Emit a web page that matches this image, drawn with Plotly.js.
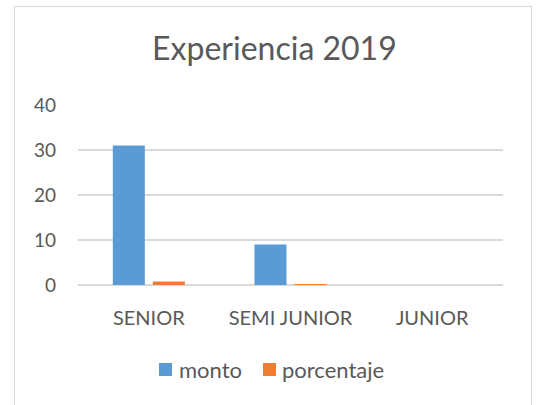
<!DOCTYPE html>
<html>
<head>
<meta charset="utf-8">
<script src="https://cdn.plot.ly/plotly-3.0.1.min.js"></script>
<style>
  html, body { margin: 0; padding: 0; background: #fff; }
  #wrap { position: relative; width: 536px; height: 405px; overflow: hidden; }
  #chart { width: 536px; height: 405px; }
  #frame { position: absolute; left: 14px; top: 6px; width: 518px; height: 420px;
           border: 1px solid #d9d9d9; pointer-events: none; box-sizing: border-box; }
</style>
</head>
<body>
<div id="wrap">
  <div id="chart"></div>
  <div id="frame"></div>
</div>
<script>
const categories = ["SENIOR", "SEMI JUNIOR", "JUNIOR"];
const seriesNames = ["monto", "porcentaje"];
const seriesColors = ["#5B9BD5", "#ED7D31"];
const montoValues = [31, 9, 0];
const porcentajeValues = [0.775, 0.225, 0];
const yTicks = [0, 10, 20, 30, 40];

const fontFam = "Lato, 'Open Sans', sans-serif";
const textColor = "#595959";

const traces = [
  { type: "bar", name: seriesNames[0], x: categories, y: montoValues,
    marker: { color: seriesColors[0] }, hoverinfo: "skip" },
  { type: "bar", name: seriesNames[1], x: categories, y: porcentajeValues,
    marker: { color: seriesColors[1] }, hoverinfo: "skip" }
];

// custom legend (small squares + text), positioned in paper coords
const legendSquares = [[0.1906, 0.2212], [0.4353, 0.4659]];
const legendTextX = [0.2330, 0.4753];
const shapes = legendSquares.map((s, i) => ({
  type: "rect", xref: "paper", yref: "paper", x0: s[0], x1: s[1], y0: -0.5056, y1: -0.4333,
  fillcolor: seriesColors[i], line: { width: 0 }
}));
const annotations = seriesNames.map((n, i) => ({
  text: n, xref: "paper", yref: "paper", x: legendTextX[i], y: -0.4667,
  xanchor: "left", yanchor: "middle", showarrow: false,
  font: { family: fontFam, size: 22, color: textColor }
}));

const layout = {
  width: 536, height: 405,
  margin: { l: 78, r: 33, t: 105, b: 120 },
  paper_bgcolor: "rgba(0,0,0,0)", plot_bgcolor: "#fff",
  font: { family: fontFam, color: textColor, size: 17 },
  title: { text: "Experiencia 2019", font: { family: fontFam, size: 32, color: textColor },
           x: 0.512, xanchor: "center", y: 1 - 49 / 405, yanchor: "middle" },
  barmode: "group", bargap: 0.435, bargroupgap: 0.2,
  xaxis: { type: "category", showgrid: false, zeroline: false, showline: false,
           ticks: "", ticklabelstandoff: 19, tickfont: { size: 20, color: textColor } },
  yaxis: { range: [0, 40], tickvals: yTicks, ticktext: yTicks.map(String),
           showgrid: true, gridcolor: "#d9d9d9", gridwidth: 1.5,
           zeroline: true, zerolinecolor: "#d9d9d9", zerolinewidth: 1.5,
           showline: false, ticks: "", ticklabelstandoff: 21,
           tickfont: { size: 19, color: textColor } },
  showlegend: false,
  shapes: shapes,
  annotations: annotations
};

Plotly.newPlot("chart", traces, layout, { displayModeBar: false, staticPlot: true });
</script>
</body>
</html>
